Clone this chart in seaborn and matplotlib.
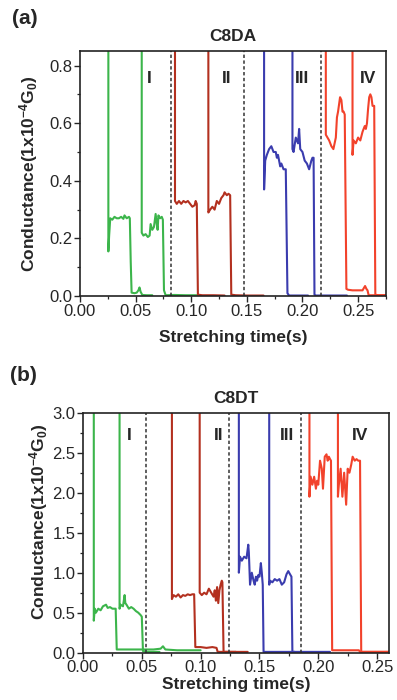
# Import libraries
import matplotlib
matplotlib.use('Agg')
import matplotlib.pyplot as plt
from matplotlib.ticker import MultipleLocator
import seaborn as sns

# Define data (stretching time in s, conductance in 1e-4 G0)

# panel (a) C8DA
a1_t = [0.0255, 0.0255, 0.0262, 0.0272, 0.029, 0.031, 0.033, 0.035, 0.037, 0.039, 0.040, 0.042, 0.044, 0.0448,
        0.0456, 0.0464, 0.049, 0.051, 0.0525, 0.0535, 0.0545, 0.056, 0.060, 0.065]
a1_g = [1.5, 0.155, 0.21, 0.27, 0.265, 0.275, 0.27, 0.27, 0.275, 0.268, 0.28, 0.27, 0.275, 0.27,
        0.12, 0.012, 0.01, 0.012, 0.02, 0.03, 0.015, 0.004, 0.003, 0.003]
a2_t = [0.0555, 0.0555, 0.057, 0.059, 0.061, 0.0626, 0.0635, 0.065, 0.0665, 0.068, 0.069, 0.0698, 0.0705,
        0.072, 0.0735, 0.0745, 0.0755, 0.077, 0.085, 0.095, 0.105]
a2_g = [1.5, 0.22, 0.21, 0.215, 0.205, 0.21, 0.25, 0.23, 0.24, 0.285, 0.25, 0.23, 0.28,
        0.27, 0.275, 0.265, 0.02, 0.003, 0.004, 0.003, 0.003]
a3_t = [0.0854, 0.0854, 0.087, 0.089, 0.091, 0.093, 0.095, 0.097, 0.099, 0.101, 0.103, 0.104, 0.105, 0.106,
        0.110, 0.120, 0.130]
a3_g = [1.5, 0.33, 0.32, 0.33, 0.32, 0.33, 0.325, 0.33, 0.32, 0.31, 0.315, 0.33, 0.32, 0.005,
        0.003, 0.003, 0.002]
a4_t = [0.1154, 0.1154, 0.117, 0.119, 0.121, 0.123, 0.125, 0.127, 0.129, 0.130, 0.132, 0.1335, 0.135, 0.136,
        0.140, 0.150, 0.165]
a4_g = [1.5, 0.29, 0.30, 0.31, 0.30, 0.33, 0.32, 0.34, 0.35, 0.36, 0.35, 0.355, 0.35, 0.005,
        0.003, 0.002, 0.002]
a5_t = [0.1655, 0.1655, 0.1665, 0.168, 0.170, 0.172, 0.174, 0.176, 0.177, 0.178, 0.180, 0.181, 0.183, 0.185,
        0.1865, 0.188, 0.195, 0.205]
a5_g = [1.5, 0.37, 0.47, 0.49, 0.51, 0.52, 0.50, 0.50, 0.48, 0.49, 0.45, 0.46, 0.44, 0.44,
        0.01, 0.002, 0.002, 0.002]
a6_t = [0.191, 0.191, 0.192, 0.194, 0.196, 0.197, 0.198, 0.200, 0.202, 0.204, 0.206, 0.208, 0.209, 0.210,
        0.2108, 0.212, 0.225, 0.24]
a6_g = [1.5, 0.51, 0.50, 0.55, 0.53, 0.58, 0.51, 0.50, 0.47, 0.46, 0.44, 0.47, 0.48, 0.48,
        0.005, 0.002, 0.002, 0.002]
a7_t = [0.221, 0.221, 0.2225, 0.224, 0.226, 0.2278, 0.230, 0.231, 0.232, 0.2338, 0.235, 0.236, 0.237, 0.238,
        0.2395, 0.241, 0.245, 0.250, 0.254, 0.2555, 0.2563, 0.2575, 0.2585, 0.2595, 0.270, 0.275]
a7_g = [1.5, 0.56, 0.55, 0.54, 0.52, 0.51, 0.55, 0.62, 0.64, 0.69, 0.68, 0.64, 0.64, 0.63,
        0.025, 0.022, 0.02, 0.02, 0.02, 0.03, 0.035, 0.025, 0.02, 0.003, 0.003, 0.003]
a8_t = [0.245, 0.245, 0.246, 0.248, 0.250, 0.252, 0.254, 0.255, 0.256, 0.257, 0.258, 0.259, 0.260, 0.261,
        0.262, 0.263, 0.2645, 0.2655, 0.268, 0.275]
a8_g = [1.5, 0.49, 0.54, 0.53, 0.55, 0.54, 0.57, 0.58, 0.59, 0.58, 0.60, 0.65, 0.69, 0.70,
        0.69, 0.66, 0.66, 0.005, 0.003, 0.003]

# panel (b) C8DT
b1_t = [0.0092, 0.0092, 0.010, 0.011, 0.013, 0.015, 0.017, 0.0196, 0.021, 0.023, 0.025, 0.0278, 0.0287,
        0.032, 0.040, 0.050, 0.060, 0.066, 0.068, 0.070, 0.080, 0.100]
b1_g = [5.0, 0.40, 0.55, 0.50, 0.55, 0.53, 0.58, 0.60, 0.56, 0.57, 0.55, 0.55, 0.04,
        0.04, 0.04, 0.04, 0.04, 0.05, 0.08, 0.04, 0.03, 0.03]
b2_t = [0.0311, 0.0311, 0.032, 0.034, 0.0354, 0.036, 0.037, 0.039, 0.041, 0.043, 0.045, 0.047, 0.049,
        0.050, 0.051, 0.055, 0.065]
b2_g = [5.0, 0.55, 0.60, 0.58, 0.72, 0.62, 0.60, 0.55, 0.57, 0.55, 0.52, 0.50, 0.47,
        0.45, 0.02, 0.01, 0.01]
b3_t = [0.0756, 0.0756, 0.077, 0.079, 0.081, 0.083, 0.085, 0.087, 0.089, 0.091, 0.093, 0.0945, 0.0955,
        0.100, 0.105, 0.110, 0.1135, 0.1145, 0.120, 0.130]
b3_g = [5.0, 0.67, 0.72, 0.70, 0.73, 0.69, 0.72, 0.71, 0.73, 0.72, 0.73, 0.73, 0.07,
        0.07, 0.06, 0.07, 0.06, 0.01, 0.01, 0.01]
b4_t = [0.0992, 0.0992, 0.101, 0.103, 0.105, 0.107, 0.109, 0.111, 0.112, 0.113, 0.114, 0.115, 0.116,
        0.117, 0.118, 0.1185, 0.1195, 0.125, 0.140]
b4_g = [5.0, 0.75, 0.72, 0.75, 0.73, 0.80, 0.75, 0.70, 0.78, 0.65, 0.82, 0.62, 0.78,
        0.85, 0.90, 0.88, 0.01, 0.01, 0.01]
b5_t = [0.1325, 0.1325, 0.1335, 0.135, 0.137, 0.139, 0.1405, 0.141, 0.142, 0.1435, 0.145, 0.146, 0.147,
        0.148, 0.149, 0.150, 0.1512, 0.152, 0.1528, 0.1535, 0.160, 0.180]
b5_g = [5.0, 1.0, 1.2, 1.15, 1.2, 1.18, 1.35, 1.25, 0.85, 1.0, 0.9, 0.85, 0.95,
        0.9, 0.97, 0.95, 1.12, 1.0, 0.85, 0.01, 0.01, 0.01]
b6_t = [0.1583, 0.1583, 0.159, 0.161, 0.163, 0.165, 0.167, 0.169, 0.171, 0.173, 0.1745, 0.176, 0.1772,
        0.178, 0.190, 0.210]
b6_g = [5.0, 0.85, 0.90, 0.88, 0.92, 0.90, 0.92, 0.85, 0.88, 0.98, 1.02, 0.98, 0.95,
        0.01, 0.01, 0.01]
b7_t = [0.1925, 0.1925, 0.1935, 0.195, 0.1965, 0.198, 0.199, 0.200, 0.2015, 0.203, 0.204, 0.2055, 0.207,
        0.208, 0.209, 0.210, 0.2108, 0.2118, 0.220, 0.230, 0.2345, 0.2355, 0.26]
b7_g = [5.0, 1.95, 2.2, 2.1, 2.2, 2.05, 2.15, 2.1, 2.4, 2.3, 2.05, 2.45, 2.48,
        2.4, 2.45, 2.42, 2.4, 0.03, 0.03, 0.03, 0.03, 0.01, 0.01]
b8_t = [0.2167, 0.2167, 0.2175, 0.219, 0.2205, 0.222, 0.2237, 0.225, 0.2265, 0.228, 0.2292, 0.231, 0.2325,
        0.234, 0.2355, 0.2365, 0.245, 0.26]
b8_g = [5.0, 1.95, 2.1, 2.3, 1.95, 2.25, 1.85, 2.3, 2.25, 2.35, 2.45, 2.4, 2.42,
        2.4, 2.4, 0.01, 0.01, 0.01]

# region separators and labels
a_dividers = [0.0816, 0.1475, 0.2165]
b_dividers = [0.0537, 0.1245, 0.1855]
region_names = ['I', 'II', 'III', 'IV']
a_name_x = [0.062, 0.1318, 0.1993, 0.259]
b_name_x = [0.039, 0.115, 0.1737, 0.2356]

GREEN, DARKRED, BLUE, RED = '#3cb54b', '#b3301f', '#3a3cae', '#f2422b'

sns.set_style('ticks')
plt.rcParams['font.family'] = ['Liberation Sans', 'DejaVu Sans']
plt.rcParams['mathtext.fontset'] = 'custom'
plt.rcParams['mathtext.rm'] = 'Liberation Sans:bold'
plt.rcParams['mathtext.default'] = 'rm'

fig = plt.figure(figsize=(3.97, 7.0), dpi=100)
ax1 = fig.add_axes([0.2015, 0.577, 0.7705, 0.350])
ax2 = fig.add_axes([0.209, 0.0676, 0.7705, 0.3428])

panels = [
    (ax1, [(a1_t, a1_g, GREEN), (a2_t, a2_g, GREEN), (a3_t, a3_g, DARKRED), (a4_t, a4_g, DARKRED),
           (a5_t, a5_g, BLUE), (a6_t, a6_g, BLUE), (a7_t, a7_g, RED), (a8_t, a8_g, RED)],
     a_dividers, a_name_x, 0.755, 'C8DA', (0, 0.275), (0, 0.85), 0.2, -0.131, 0.5, 8),
    (ax2, [(b1_t, b1_g, GREEN), (b2_t, b2_g, GREEN), (b3_t, b3_g, DARKRED), (b4_t, b4_g, DARKRED),
           (b5_t, b5_g, BLUE), (b6_t, b6_g, BLUE), (b7_t, b7_g, RED), (b8_t, b8_g, RED)],
     b_dividers, b_name_x, 2.72, 'C8DT', (0, 0.26), (0, 3.0), 0.5, -0.108, 0.546, 1.5),
]

for ax, traces, dividers, name_x, name_y, title, xlim, ylim, ystep, lab_x, lab_y, xpad in panels:
    for t, g, c in traces:
        sns.lineplot(x=t, y=g, ax=ax, color=c, sort=False, estimator=None, linewidth=1.5)
    for d in dividers:
        ax.axvline(d, color='#333333', linestyle=(0, (2.2, 1.6)), linewidth=1.1)
    for nm, nx in zip(region_names, name_x):
        ax.text(nx, name_y, nm, ha='center', va='center', fontsize=12.5, fontweight='bold')
    ax.set_xlim(*xlim)
    ax.set_ylim(*ylim)
    ax.xaxis.set_major_locator(MultipleLocator(0.05))
    ax.xaxis.set_minor_locator(MultipleLocator(0.025))
    ax.yaxis.set_major_locator(MultipleLocator(ystep))
    ax.yaxis.set_minor_locator(MultipleLocator(ystep / 2))
    ax.xaxis.set_major_formatter(matplotlib.ticker.FormatStrFormatter('%.2f'))
    ax.yaxis.set_major_formatter(matplotlib.ticker.FormatStrFormatter('%.1f'))
    ax.tick_params(which='major', direction='out', length=4.5, width=1.0, labelsize=12, pad=1)
    ax.tick_params(which='minor', direction='out', length=2.5, width=0.9)
    for s in ax.spines.values():
        s.set_linewidth(1.2)
        s.set_color('#222222')
    ax.set_title(title, fontsize=12.5, fontweight='bold', pad=7)
    ax.set_xlabel('Stretching time(s)', fontsize=12.5, fontweight='bold', labelpad=xpad)
    ax.set_ylabel(r'Conductance(1x10$^{-4}$G$_0$)', fontsize=12.5, fontweight='bold')
    ax.yaxis.set_label_coords(lab_x, lab_y)

fig.text(0.03, 0.973, '(a)', fontsize=15, fontweight='bold', ha='left', va='center')
fig.text(0.025, 0.464, '(b)', fontsize=15, fontweight='bold', ha='left', va='center')

# Save the figure
fig.savefig('out.png', dpi=100)
